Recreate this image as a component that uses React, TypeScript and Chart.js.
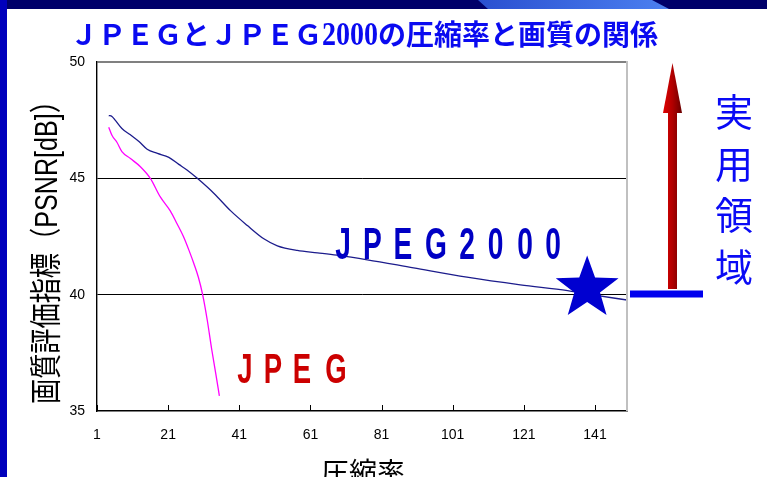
import { useEffect, useRef } from "react";
import { Chart, registerables } from "chart.js";

Chart.register(...registerables);

// ---- data ----
const xTickValues = [1, 21, 41, 61, 81, 101, 121, 141];
const yMin = 35;
const yMax = 50;
const yStep = 5;
const xMin = 1;
const xMax = 150;

const jpeg2000Rate = [4.3, 5.2, 6.1, 8, 10.4, 12.8, 15.1, 18, 21.2, 24, 26.3, 29.2, 33.9, 38.6, 43.2, 47.9, 51.7, 57.3, 63, 68.4, 77, 90, 105, 120, 133.3, 140, 150];
const jpeg2000Psnr = [47.7, 47.66, 47.5, 47.14, 46.87, 46.58, 46.25, 46.07, 45.9, 45.6, 45.36, 45.0, 44.35, 43.6, 42.98, 42.4, 42.1, 41.9, 41.8, 41.7, 41.5, 41.15, 40.75, 40.42, 40.17, 40.0, 39.77];

const jpegRate = [4.3, 5.2, 6.6, 8, 10.4, 13.2, 16, 18.8, 21.6, 23.5, 25.3, 27, 28.2, 29.5, 30.7, 32, 33.3, 34.4, 35.4];
const jpegPsnr = [47.2, 46.85, 46.55, 46.15, 45.85, 45.5, 45.0, 44.2, 43.6, 43.05, 42.5, 41.85, 41.35, 40.75, 40.0, 38.9, 37.6, 36.6, 35.65];

const starRate = 138.8;
const starPsnr = 40.27;

const titleParts = ["ＪＰＥＧとＪＰＥＧ", "2000", "の圧縮率と画質の関係"];
const yAxisTitle = "画質評価指標（PSNR[dB]）";
const xAxisTitle = "圧縮率";
const regionLabel = ["実", "用", "領", "域"];
const jpeg2000Label = ["J", "P", "E", "G", "2", "0", "0", "0"];
const jpegLabel = ["J", "P", "E", "G"];

const jpeg2000LabelX = [343, 372.5, 403, 436, 467, 495.5, 525, 553];
const jpegLabelX = [245, 273, 302, 336];

function drawStar(ctx: CanvasRenderingContext2D, cx: number, cy: number, R: number, r: number) {
  ctx.beginPath();
  for (let i = 0; i < 10; i++) {
    const a = -Math.PI / 2 + (i * Math.PI) / 5;
    const rad = i % 2 === 0 ? R : r;
    const px = cx + rad * Math.cos(a);
    const py = cy + rad * Math.sin(a);
    if (i === 0) ctx.moveTo(px, py);
    else ctx.lineTo(px, py);
  }
  ctx.closePath();
  ctx.fill();
}

const decoPlugin = {
  id: "deco",
  beforeDraw(chart: any) {
    const ctx: CanvasRenderingContext2D = chart.ctx;
    const W = chart.width;
    const H = chart.height;
    ctx.save();
    ctx.fillStyle = "#ffffff";
    ctx.fillRect(0, 0, W, H);
    // top bar
    ctx.fillStyle = "#00006a";
    ctx.fillRect(0, 0, W, 9);
    const lg = ctx.createLinearGradient(478, 0, 670, 0);
    lg.addColorStop(0, "#2a50d0");
    lg.addColorStop(1, "#4c80f0");
    ctx.fillStyle = lg;
    ctx.beginPath();
    ctx.moveTo(478, 0);
    ctx.lineTo(652, 0);
    ctx.lineTo(669, 9);
    ctx.lineTo(488, 9);
    ctx.closePath();
    ctx.fill();
    // left strip
    ctx.fillStyle = "#0000bc";
    ctx.fillRect(0, 0, 7, H);
    ctx.restore();
  },
  afterDraw(chart: any) {
    const ctx: CanvasRenderingContext2D = chart.ctx;
    const area = chart.chartArea;
    const xs = chart.scales.x;
    const ys = chart.scales.y;
    ctx.save();

    // right border
    ctx.strokeStyle = "#c0c0c0";
    ctx.lineWidth = 2;
    ctx.beginPath();
    ctx.moveTo(area.right, area.top - 1);
    ctx.lineTo(area.right, area.bottom);
    ctx.stroke();

    // inside x ticks
    ctx.strokeStyle = "#000";
    ctx.lineWidth = 1;
    for (const v of xTickValues) {
      const px = Math.round(xs.getPixelForValue(v)) + 0.5;
      ctx.beginPath();
      ctx.moveTo(px, area.bottom);
      ctx.lineTo(px, area.bottom - 6);
      ctx.stroke();
    }

    // star
    ctx.fillStyle = "#0000d0";
    drawStar(ctx, xs.getPixelForValue(starRate), ys.getPixelForValue(starPsnr), 33, 13.5);

    // JPEG2000 label
    ctx.fillStyle = "#0000c4";
    ctx.font = "bold 44px 'Liberation Sans', Arial, sans-serif";
    ctx.textAlign = "center";
    ctx.textBaseline = "alphabetic";
    jpeg2000Label.forEach((c, i) => {
      ctx.save();
      ctx.translate(jpeg2000LabelX[i], 259);
      ctx.scale(0.64, 1);
      ctx.fillText(c, 0, 0);
      ctx.restore();
    });

    // JPEG label
    ctx.fillStyle = "#cc0000";
    ctx.font = "bold 43px 'Liberation Sans', Arial, sans-serif";
    jpegLabel.forEach((c, i) => {
      ctx.save();
      ctx.translate(jpegLabelX[i], 383);
      ctx.scale(0.64, 1);
      ctx.fillText(c, 0, 0);
      ctx.restore();
    });

    // arrow
    const ag = ctx.createLinearGradient(663, 0, 682, 0);
    ag.addColorStop(0, "#e00000");
    ag.addColorStop(0.5, "#b00000");
    ag.addColorStop(1, "#6a0000");
    ctx.fillStyle = ag;
    ctx.fillRect(668, 112, 9, 177);
    ctx.beginPath();
    ctx.moveTo(672.5, 63);
    ctx.lineTo(682, 113);
    ctx.lineTo(663, 113);
    ctx.closePath();
    ctx.fill();

    // blue bar
    ctx.fillStyle = "#0000ee";
    ctx.fillRect(630, 290.5, 73, 7);

    // 実用領域
    ctx.fillStyle = "#0a0af5";
    ctx.font = "38px 'Noto Sans CJK JP', sans-serif";
    ctx.textAlign = "center";
    ctx.textBaseline = "middle";
    regionLabel.forEach((c, i) => {
      ctx.fillText(c, 734, 112 + i * 51.5);
    });

    // title
    ctx.fillStyle = "#0a0af0";
    const fonts = [
      "bold 28px 'Noto Sans CJK JP', sans-serif",
      "bold 33px 'Liberation Serif', serif",
      "bold 28px 'Noto Sans CJK JP', sans-serif",
    ];
    const widths = titleParts.map((t, i) => {
      ctx.font = fonts[i];
      return ctx.measureText(t).width * (i === 1 ? 0.85 : 1);
    });
    const total = widths.reduce((a, b) => a + b, 0);
    const targetW = 588;
    const sx = targetW / total;
    ctx.save();
    ctx.translate(70, 45);
    ctx.scale(sx, 1);
    ctx.textAlign = "left";
    ctx.textBaseline = "alphabetic";
    let cx = 0;
    titleParts.forEach((t, i) => {
      ctx.font = fonts[i];
      ctx.save();
      if (i === 1) {
        ctx.translate(cx, 0);
        ctx.scale(0.85, 1);
        ctx.fillText(t, 0, 0);
      } else {
        ctx.fillText(t, cx, 0);
      }
      ctx.restore();
      cx += widths[i];
    });
    ctx.restore();

    // y axis title
    ctx.fillStyle = "#000";
    ctx.save();
    ctx.translate(48, 246);
    ctx.rotate(-Math.PI / 2);
    ctx.font = "32px 'Liberation Sans', 'Noto Sans CJK JP', sans-serif";
    const yw = ctx.measureText(yAxisTitle).width;
    ctx.scale(316 / yw, 1);
    ctx.textAlign = "center";
    ctx.textBaseline = "middle";
    ctx.fillText(yAxisTitle, 0, 0);
    ctx.restore();

    // x axis title
    ctx.font = "28px 'Noto Sans CJK JP', sans-serif";
    ctx.textAlign = "center";
    ctx.textBaseline = "middle";
    ctx.fillText(xAxisTitle, 363, 472);

    ctx.restore();
  },
};

export default function App() {
  const ref = useRef<HTMLCanvasElement | null>(null);
  useEffect(() => {
    if (!ref.current) return;
    const chart = new Chart(ref.current, {
      type: "line",
      data: {
        datasets: [
          {
            label: "JPEG2000",
            data: jpeg2000Rate.map((x, i) => ({ x, y: jpeg2000Psnr[i] })),
            borderColor: "#1c1c8c",
            borderWidth: 1.3,
            pointRadius: 0,
            cubicInterpolationMode: "monotone",
            fill: false,
          },
          {
            label: "JPEG",
            data: jpegRate.map((x, i) => ({ x, y: jpegPsnr[i] })),
            borderColor: "#ff00ff",
            borderWidth: 1.3,
            pointRadius: 0,
            cubicInterpolationMode: "monotone",
            fill: false,
          },
        ],
      },
      options: {
        animation: false,
        responsive: false,
        devicePixelRatio: 1,
        layout: { padding: { left: 0, top: 62, right: 140, bottom: 0 } },
        plugins: {
          legend: { display: false },
          tooltip: { enabled: false },
        },
        scales: {
          x: {
            type: "linear",
            min: xMin,
            max: xMax,
            afterBuildTicks: (scale: any) => {
              scale.ticks = xTickValues.map((v) => ({ value: v }));
            },
            afterFit: (scale: any) => {
              scale.height = 66;
            },
            grid: { color: "rgba(0,0,0,0)", drawTicks: false },
            border: { display: true, color: "#000", width: 1.6 },
            ticks: {
              color: "#000",
              padding: 16,
              maxRotation: 0,
              autoSkip: false,
              font: { family: "'Liberation Sans', Arial, sans-serif", size: 14 },
            },
          },
          y: {
            type: "linear",
            min: yMin,
            max: yMax,
            afterFit: (scale: any) => {
              scale.width = 97;
            },
            ticks: {
              stepSize: yStep,
              color: "#000",
              padding: 12,
              font: { family: "'Liberation Sans', Arial, sans-serif", size: 14 },
            },
            grid: {
              drawTicks: false,
              color: (c: any) =>
                c.tick && c.tick.value === yMax ? "#808080" : c.tick && c.tick.value === yMin ? "rgba(0,0,0,0)" : "#000",
              lineWidth: (c: any) => (c.tick && c.tick.value === yMax ? 2 : 1),
            },
            border: { display: true, color: "#000", width: 1.4 },
          },
        },
      },
      plugins: [decoPlugin],
    } as any);
    return () => chart.destroy();
  }, []);
  return (
    <div style={{ position: "fixed", left: 0, top: 0, width: 767, height: 477 }}>
      <canvas ref={ref} width={767} height={477} style={{ display: "block", width: 767, height: 477 }} />
    </div>
  );
}
